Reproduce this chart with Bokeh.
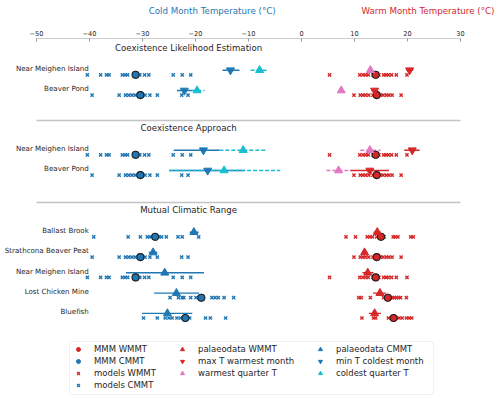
from bokeh.plotting import figure
from bokeh.layouts import column
from bokeh.models import (Range1d, FixedTicker, Legend, LegendItem, BoxAnnotation)
from bokeh.core.properties import value
from bokeh.embed import file_html
from bokeh.resources import INLINE

BLUE = "#1f77b4"; RED = "#d62728"; PINK = "#e377c2"; CYAN = "#17becf"
FONT = "DejaVu Sans"; TXT = "#262626"

# ---------------- data ----------------
x_ticks = [-50, -40, -30, -20, -10, 0, 10, 20, 30]
axis_titles = ["Cold Month Temperature (\u00b0C)", "Warm Month Temperature (\u00b0C)"]
methods = ["Coexistence Likelihood Estimation", "Coexistence Approach", "Mutual Climatic Range"]
cle_sites = ["Near Meighen Island", "Beaver Pond"]
ca_sites = ["Near Meighen Island", "Beaver Pond"]
mcr_sites = ["Ballast Brook", "Strathcona Beaver Peat", "Near Meighen Island",
             "Lost Chicken Mine", "Bluefish"]

# model ensemble values (13 models) by model grid location
models_cmmt_meighen = [-40.4, -37.9, -36.8, -36.3, -33.8, -33.3, -32.8, -30.5, -29.6, -28.8, -24.2, -22.5, -20.9]
models_wmmt_meighen = [5.3, 11.0, 11.6, 12.1, 12.6, 13.5, 14.6, 15.5, 16.0, 16.4, 17.0, 17.9, 19.9]
models_cmmt_beaver = [-39.5, -34.4, -33.2, -32.6, -32.0, -31.4, -30.8, -30.0, -29.5, -28.6, -27.2, -22.6, -21.4]
models_wmmt_beaver = [9.9, 11.1, 11.6, 12.1, 12.7, 13.5, 14.2, 14.9, 15.4, 16.0, 16.5, 17.1, 18.8]
models_cmmt_ballast = [-39.2, -32.7, -30.4, -29.1, -28.6, -27.8, -27.5, -26.9, -26.4, -25.5, -23.3, -22.5, -19.4]
models_wmmt_ballast = [8.4, 10.2, 12.4, 12.9, 13.4, 14.2, 14.8, 15.6, 17.3, 17.7, 18.2, 20.6, 21.1]
models_cmmt_lostchicken = [-24.8, -23.2, -22.5, -22.2, -20.9, -19.9, -19.3, -18.8, -16.9, -16.3, -15.7, -14.6, -12.8]
models_wmmt_lostchicken = [10.8, 11.3, 13.0, 15.5, 15.9, 16.3, 16.8, 17.1, 17.5, 17.9, 18.3, 18.7, 19.8]
models_cmmt_bluefish = [-29.8, -27.2, -25.7, -25.0, -24.4, -23.5, -22.8, -22.3, -21.5, -21.1, -18.1, -17.2, -14.3]
models_wmmt_bluefish = [11.4, 13.6, 14.0, 16.4, 16.9, 17.3, 17.6, 17.9, 18.4, 19.0, 19.8, 20.3, 20.8]

# multi-model means
mmm_keys = ["meighen", "beaver", "ballast", "lostchicken", "bluefish"]
mmm_cmmt = [-31.3, -30.4, -27.6, -18.9, -21.9]
mmm_wmmt = [14.0, 14.2, 15.0, 16.3, 17.4]

site_key = {"Near Meighen Island": "meighen", "Beaver Pond": "beaver",
            "Strathcona Beaver Peat": "beaver", "Ballast Brook": "ballast",
            "Lost Chicken Mine": "lostchicken", "Bluefish": "bluefish"}
models_cmmt = {"meighen": models_cmmt_meighen, "beaver": models_cmmt_beaver,
               "ballast": models_cmmt_ballast, "lostchicken": models_cmmt_lostchicken,
               "bluefish": models_cmmt_bluefish}
models_wmmt = {"meighen": models_wmmt_meighen, "beaver": models_wmmt_beaver,
               "ballast": models_wmmt_ballast, "lostchicken": models_wmmt_lostchicken,
               "bluefish": models_wmmt_bluefish}

# Coexistence Likelihood Estimation (per cle_sites)
cle_min_tcm = [-13.4, -22.1]; cle_min_tcm_lo = [-14.9, -23.5]; cle_min_tcm_hi = [-11.7, -20.6]
cle_cqt = [-7.9, -19.7];      cle_cqt_lo = [-9.6, -20.8];      cle_cqt_hi = [-6.6, -18.3]
cle_wqt = [13.0, 7.5];        cle_wqt_lo = [12.4, 7.0];        cle_wqt_hi = [13.6, 8.0]
cle_max_twm = [20.4, 13.8];   cle_max_twm_lo = [19.8, 13.2];   cle_max_twm_hi = [21.1, 14.4]
# Coexistence Approach (per ca_sites)
ca_min_tcm = [-18.5, -17.7];  ca_min_tcm_lo = [-24.1, -25.0];  ca_min_tcm_hi = [-15.5, -10.6]
ca_cqt = [-11.0, -14.6];      ca_cqt_lo = [-15.5, -25.0];      ca_cqt_hi = [-6.5, -4.0]
ca_wqt = [12.9, 7.0];         ca_wqt_lo = [11.1, 4.7];         ca_wqt_hi = [14.9, 9.2]
ca_max_twm = [20.9, 12.9];    ca_max_twm_lo = [19.4, 9.2];     ca_max_twm_hi = [22.3, 16.5]
# Mutual Climatic Range (per mcr_sites)
mcr_cmmt = [-20.3, -28.0, -25.8, -23.6, -25.3]
mcr_cmmt_lo = [-21.1, -28.8, -33.1, -27.8, -30.1]
mcr_cmmt_hi = [-19.4, -27.2, -18.4, -19.3, -20.6]
mcr_wmmt = [14.3, 11.9, 12.5, 14.8, 13.8]
mcr_wmmt_lo = [13.6, 11.4, 11.5, 13.5, 12.7]
mcr_wmmt_hi = [15.0, 12.4, 13.6, 16.0, 15.0]

# ---------------- layout (y axis in pixel rows from the top) ----------------
TOP_H = 22
SECTION_Y = [47, 127, 209]
ROW_START, ROW_STEP, PAL_OFF, LAB_OFF = 27.3, 20.3, -4.6, -6.3

def row_y(sec, i):
    return SECTION_Y[sec] + ROW_START + ROW_STEP * i

xr = Range1d(-56.79, 37.55)

# header strip with the two coloured axis titles
top = figure(width=500, height=TOP_H, output_backend="svg", toolbar_location=None,
             x_range=xr, y_range=Range1d(TOP_H, 0), x_axis_location=None, y_axis_location=None)
top.min_border = 0
top.outline_line_color = None
top.grid.visible = False
top.text(x=[-16.85, 23.87], y=[10, 10], text=axis_titles, text_color=[BLUE, RED],
         text_align="center", text_baseline="middle",
         text_font=value(FONT), text_font_size="8.7px")

p = figure(width=500, height=399 - TOP_H, output_backend="svg", toolbar_location=None,
           x_range=xr, y_range=Range1d(399, 38),
           x_axis_location="above", y_axis_location=None)
p.min_border = 0
p.min_border_top = 38 - TOP_H
p.outline_line_color = None
p.grid.visible = False
p.background_fill_color = "white"
p.border_fill_color = "white"

ax = p.xaxis[0]
ax.ticker = FixedTicker(ticks=x_ticks)
ax.bounds = (-50, 30)
ax.major_label_overrides = {t: (("\u2212" + str(abs(t))) if t < 0 else str(t)) for t in x_ticks}
ax.major_tick_in = 3
ax.major_tick_out = 0
ax.minor_tick_line_color = None
ax.axis_line_color = "#cccccc"
ax.axis_line_width = 1.2
ax.major_tick_line_color = "#999999"
ax.major_label_text_font = FONT
ax.major_label_text_font_size = "6.6px"
ax.major_label_text_color = TXT
ax.major_label_standoff = 3

# section separators
p.segment(x0=[-50, -50], x1=[30, 30],
          y0=[SECTION_Y[1] - 7, SECTION_Y[2] - 7], y1=[SECTION_Y[1] - 7, SECTION_Y[2] - 7],
          line_color="#c4c4c4", line_width=1.6)

# section titles
p.text(x=[-21.3] * 3, y=SECTION_Y, text=methods, text_align="center", text_baseline="middle",
       text_font=value(FONT), text_font_size="8.6px", text_color=TXT)

# site labels
all_sections = [cle_sites, ca_sites, mcr_sites]
lx, ly, lt = [], [], []
for s, sites in enumerate(all_sections):
    for i, name in enumerate(sites):
        lx.append(-40.13); ly.append(row_y(s, i) + LAB_OFF); lt.append(name)
p.text(x=lx, y=ly, text=lt, text_align="right", text_baseline="middle",
       text_font=value(FONT), text_font_size="7.1px", text_color=TXT)

# ---------------- palaeo ranges ----------------
def add_ranges(lo_hi_secs, color, dash):
    x0, x1, y = [], [], []
    for lo, hi, sec in lo_hi_secs:
        for i, (a, b) in enumerate(zip(lo, hi)):
            x0.append(a); x1.append(b); y.append(row_y(sec, i) + PAL_OFF)
    p.segment(x0=x0, x1=x1, y0=y, y1=y, line_color=color, line_width=1.4, line_dash=dash)

add_ranges([(cle_min_tcm_lo, cle_min_tcm_hi, 0), (ca_min_tcm_lo, ca_min_tcm_hi, 1),
            (mcr_cmmt_lo, mcr_cmmt_hi, 2)], BLUE, "solid")
add_ranges([(cle_max_twm_lo, cle_max_twm_hi, 0), (ca_max_twm_lo, ca_max_twm_hi, 1),
            (mcr_wmmt_lo, mcr_wmmt_hi, 2)], RED, "solid")
add_ranges([(cle_cqt_lo, cle_cqt_hi, 0), (ca_cqt_lo, ca_cqt_hi, 1)], CYAN, "4 2")
add_ranges([(cle_wqt_lo, cle_wqt_hi, 0), (ca_wqt_lo, ca_wqt_hi, 1)], PINK, "4 2")

# ---------------- model crosses & MMM ----------------
cxs, cys, wxs, wys = [], [], [], []
mcx, mcy, mwx, mwy = [], [], [], []
for s, sites in enumerate(all_sections):
    for i, name in enumerate(sites):
        k = site_key[name]
        y = row_y(s, i)
        cxs += models_cmmt[k]; cys += [y] * len(models_cmmt[k])
        wxs += models_wmmt[k]; wys += [y] * len(models_wmmt[k])
        j = mmm_keys.index(k)
        mcx.append(mmm_cmmt[j]); mcy.append(y)
        mwx.append(mmm_wmmt[j]); mwy.append(y)

r_mod_w = p.scatter(x=wxs, y=wys, marker="x", size=4.5, line_color=RED, line_width=1.4)
r_mod_c = p.scatter(x=cxs, y=cys, marker="x", size=4.5, line_color=BLUE, line_width=1.4)
# plain dots (used as legend swatches), covered by the outlined means
r_mmm_w = p.scatter(x=mwx, y=mwy, marker="circle", size=7, color=RED)
r_mmm_c = p.scatter(x=mcx, y=mcy, marker="circle", size=7, color=BLUE)
p.scatter(x=mwx, y=mwy, marker="circle", size=7, fill_color=RED, line_color="#222222", line_width=1.1)
p.scatter(x=mcx, y=mcy, marker="circle", size=7, fill_color=BLUE, line_color="#222222", line_width=1.1)

# ---------------- palaeo markers ----------------
def merge(*pairs):
    xs, ys = [], []
    for vals, sec in pairs:
        xs += list(vals)
        ys += [row_y(sec, i) + PAL_OFF for i in range(len(vals))]
    return xs, ys

x, y = merge((mcr_wmmt, 2))
r_pal_w = p.scatter(x=x, y=y, marker="triangle", size=8, color=RED)
x, y = merge((cle_max_twm, 0), (ca_max_twm, 1))
r_max_twm = p.scatter(x=x, y=y, marker="inverted_triangle", size=8, color=RED)
x, y = merge((cle_wqt, 0), (ca_wqt, 1))
r_wqt = p.scatter(x=x, y=y, marker="triangle", size=8, color=PINK)
x, y = merge((mcr_cmmt, 2))
r_pal_c = p.scatter(x=x, y=y, marker="triangle", size=8, color=BLUE)
x, y = merge((cle_min_tcm, 0), (ca_min_tcm, 1))
r_min_tcm = p.scatter(x=x, y=y, marker="inverted_triangle", size=8, color=BLUE)
x, y = merge((cle_cqt, 0), (ca_cqt, 1))
r_cqt = p.scatter(x=x, y=y, marker="triangle", size=8, color=CYAN)

# ---------------- legend ----------------
p.add_layout(BoxAnnotation(left=-43.77, right=24.9, top=341, bottom=394,
                           fill_color="white", fill_alpha=1, line_color="#cccccc",
                           line_width=1, border_radius=3))

cols = [
    [("MMM WMMT", r_mmm_w), ("MMM CMMT", r_mmm_c), ("models WMMT", r_mod_w), ("models CMMT", r_mod_c)],
    [("palaeodata WMMT", r_pal_w), ("max T warmest month", r_max_twm), ("warmest quarter T", r_wqt)],
    [("palaeodata CMMT", r_pal_c), ("min T coldest month", r_min_tcm), ("coldest quarter T", r_cqt)],
]
col_left = [69, 173, 311]
for c, items in enumerate(cols):
    n = len(items)
    h = 3 + n * 10 + (n - 1) * 2 + 3
    bottom = int(round(399 - (341 + h)))
    leg = Legend(items=[LegendItem(label=t, renderers=[r]) for t, r in items],
                 location=(col_left[c], bottom), orientation="vertical",
                 glyph_width=12, glyph_height=10, label_height=10, label_standoff=10,
                 padding=3, spacing=2, margin=0,
                 label_text_font=FONT, label_text_font_size="8.5px", label_text_color=TXT,
                 background_fill_alpha=0, border_line_alpha=0)
    p.add_layout(leg)

open("out.html", "w").write(file_html(column(top, p, spacing=0), INLINE))
